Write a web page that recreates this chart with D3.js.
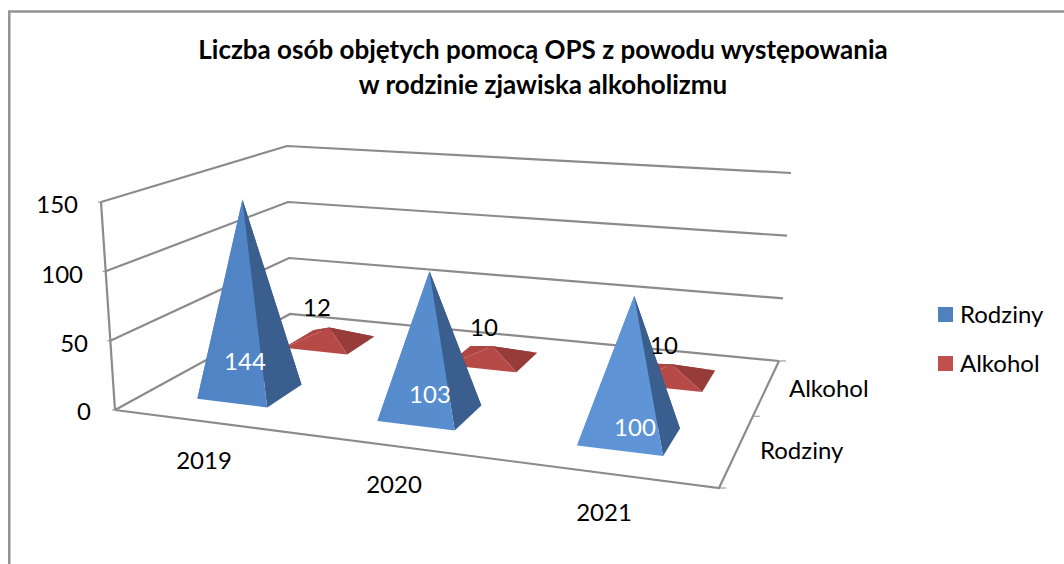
<!DOCTYPE html>
<html><head><meta charset="utf-8">
<style>
html,body{margin:0;padding:0;background:#fff}
svg{display:block}
text{font-family:Lato,"Open Sans",sans-serif;fill:#000}
</style>
<script src="https://cdn.jsdelivr.net/npm/d3@7"></script>
</head><body><svg id="c" width="1064" height="564"></svg>
<script>
const titleLines = ["Liczba osób objętych pomocą OPS z powodu występowania", "w rodzinie zjawiska alkoholizmu"];
const categories = ["2019", "2020", "2021"];
const seriesNames = ["Rodziny", "Alkohol"];
const rodziny = [144, 103, 100];
const alkohol = [12, 10, 10];
const valueTicks = [0, 50, 100, 150];

const colors = {
  Rodziny: {front:"url(#blueFront)", right:"#3a5e8e", back:"#2f4d75", left:"url(#blueFront)", legend:"#4f81bd"},
  Alkohol: {front:"#b54a47", right:"#983c3a", back:"#7d2f2d", left:"#b04644", legend:"#c0504d"}
};

const svg = d3.select("#c");

const grad = svg.append("defs").append("linearGradient").attr("id","blueFront")
  .attr("gradientUnits","userSpaceOnUse").attr("x1",200).attr("y1",0).attr("x2",640).attr("y2",0);
grad.append("stop").attr("offset",0).attr("stop-color","#4f83c4");
grad.append("stop").attr("offset",1).attr("stop-color","#5f95d7");

// projection of the 3-D box onto the picture
const floorQuad = [[115,410],[719,488],[779,361],[290,314]];
const topQuad   = [[101,202],[731,268],[791,173],[287,146]];
const vanish = [454,5450];
function homography(q){
  const [[x0,y0],[x1,y1],[x2,y2],[x3,y3]] = q;
  const dx1=x1-x2, dx2=x3-x2, sx=x0-x1+x2-x3, dy1=y1-y2, dy2=y3-y2, sy=y0-y1+y2-y3;
  const det=dx1*dy2-dx2*dy1;
  const g=(sx*dy2-dx2*sy)/det, h=(dx1*sy-sx*dy1)/det;
  const a=x1-x0+g*x1, b=x3-x0+h*x3, c=x0, d=y1-y0+g*y1, e=y3-y0+h*y3, f=y0;
  return (u,v)=>{const w=g*u+h*v+1; return [(a*u+b*v+c)/w,(d*u+e*v+f)/w];};
}
const floorH = homography(floorQuad), topH = homography(topQuad);

const xScale = d3.scaleBand().domain(categories).range([0,1]);
const zScale = d3.scaleBand().domain(seriesNames).range([0,1]);
const yScale = d3.scaleLinear().domain([0,150]).range([0,1]);
function project(u,v,val){
  const a=floorH(u,v), b=topH(u,v), t=yScale(val);
  return [a[0]+(b[0]-a[0])*t, a[1]+(b[1]-a[1])*t];
}
// a point above the floor: height from the box, leaning towards the vanishing point
function projectUp(u,v,val){
  const a=floorH(u,v), y=project(u,v,val)[1];
  return [vanish[0]+(a[0]-vanish[0])*(vanish[1]-y)/(vanish[1]-a[1]), y];
}
const line = d3.line();
const gridColor = "#8b8b8b";

// walls and floor
const grid = svg.append("g").attr("fill","none").attr("stroke",gridColor).attr("stroke-width",2.2);
valueTicks.forEach(t=>{
  grid.append("path").attr("d",line([project(0,0,t),project(0,1,t),project(1,1,t)]));
});
grid.append("path").attr("d",line([project(0,0,0),project(0,0,150)]));
grid.append("path").attr("d",line([project(0,0,0),project(1,0,0),project(1,1,0)]));
const ticks = svg.append("g").attr("stroke",gridColor).attr("stroke-width",1);
[0,0.5,1].forEach(v=>{
  const p=project(1,v,0);
  ticks.append("line").attr("x1",p[0]).attr("y1",p[1]).attr("x2",p[0]+7).attr("y2",p[1]);
});
valueTicks.forEach(t=>{
  const p=project(0,0,t);
  ticks.append("line").attr("x1",p[0]-3).attr("y1",p[1]).attr("x2",p[0]).attr("y2",p[1]);
});

// pyramids
function pyramid(cat,s,val){
  const bw=xScale.bandwidth()*0.2, bd=zScale.bandwidth()*0.2;
  const cu=xScale(cat)+xScale.bandwidth()/2, cv=zScale(s)+zScale.bandwidth()/2;
  const c=colors[s];
  const fl=project(cu-bw,cv-bd,0), fr=project(cu+bw,cv-bd,0), br=project(cu+bw,cv+bd,0), bl=project(cu-bw,cv+bd,0);
  const apex=projectUp(cu,cv,val);
  const g=svg.append("g");
  const faces=[[bl,br,apex,c.back],[fl,bl,apex,c.left],[br,fr,apex,c.right],[fl,fr,apex,c.front]];
  faces.forEach(f=>g.append("path").attr("d",line(f.slice(0,3))+"Z").attr("fill",f[3]));
}
[...seriesNames].reverse().forEach(s=>{
  const vals = s==="Rodziny"?rodziny:alkohol;
  categories.forEach((cat,i)=>pyramid(cat,s,vals[i]));
});

// text
const text=(x,y,s,size,anchor,extra)=>{
  const t=svg.append("text").attr("x",x).attr("y",y).attr("font-size",size).attr("text-anchor",anchor||"start").text(s);
  if(extra) Object.entries(extra).forEach(([k,v])=>t.attr(k,v));
  return t;
};
titleLines.forEach((s,i)=>text(543,[59,94][i],s,26,"middle",{"font-weight":700}));

const tickPos=[[91,420],[88,352],[83,283],[78,213]];
valueTicks.forEach((t,i)=>text(tickPos[i][0],tickPos[i][1],d3.format("d")(t),24,"end"));
const catPos=[[204,469],[394,493],[604,521]];
categories.forEach((c,i)=>text(catPos[i][0],catPos[i][1],c,24,"middle"));
const depthPos=[[760,459],[789,397]];
seriesNames.forEach((s,i)=>text(depthPos[i][0],depthPos[i][1],s,24,"start"));

const rodzinyLabelPos=[[245,370],[430,403],[635,436]];
const alkoholLabelPos=[[317,316],[484,336],[664,354]];
rodziny.forEach((v,i)=>text(rodzinyLabelPos[i][0],rodzinyLabelPos[i][1],v,24,"middle").style("fill","#fff"));
alkohol.forEach((v,i)=>text(alkoholLabelPos[i][0],alkoholLabelPos[i][1],v,24,"middle"));

// legend
const legY=[307,356];
seriesNames.forEach((s,i)=>{
  svg.append("rect").attr("x",938).attr("y",legY[i]).attr("width",15).attr("height",15).attr("fill",colors[s].legend);
  text(960,legY[i]+16,s,24,"start");
});

// chart frame
svg.append("path").attr("d","M9.3,564V11.5H1064").attr("fill","none").attr("stroke","#929292").attr("stroke-width",2.5);
</script></body></html>
